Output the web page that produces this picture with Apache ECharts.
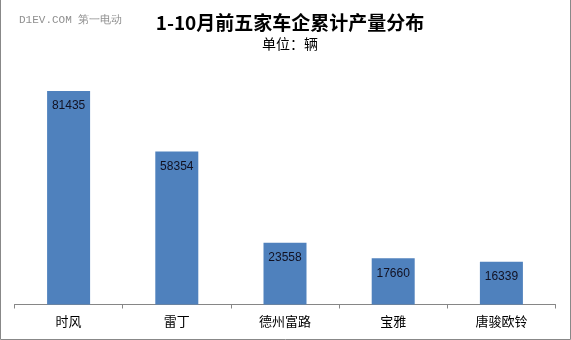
<!DOCTYPE html>
<html><head><meta charset="utf-8">
<script src="https://cdn.jsdelivr.net/npm/echarts@6/dist/echarts.min.js"></script>
<style>html,body{margin:0;padding:0;background:#fff}#c{width:571px;height:340px}</style>
</head><body><div id="c"></div>
<script>
const categories = ['时风','雷丁','德州富路','宝雅','唐骏欧铃'];
const values = [81435, 58354, 23558, 17660, 16339];
const titleText = '1-10月前五家车企累计产量分布';
const subtitleText = '单位：辆';
const watermark = 'D1EV.COM 第一电动';

const chart = echarts.init(document.getElementById('c'));
chart.setOption({
  backgroundColor: '#fff',
  animation: false,
  title: [{
    text: titleText,
    left: 285, top: 5, textAlign: 'center',
    textStyle: {fontFamily: 'Noto Sans CJK SC', fontSize: 19, fontWeight: 'bold', color: '#000', lineHeight: 26}
  },{
    text: subtitleText,
    left: 285, top: 30, textAlign: 'center',
    textStyle: {fontFamily: 'Noto Sans CJK SC', fontSize: 14, fontWeight: 'normal', color: '#000', lineHeight: 18}
  },{
    text: watermark,
    left: 14, top: 8,
    textStyle: {fontFamily: 'Liberation Mono', fontSize: 11, fontWeight: 'normal', color: '#8f8f8f', lineHeight: 14}
  }],
  grid: {left: 14.5, right: 15.5, top: 68.5, bottom: 35.5},
  xAxis: {
    type: 'category', data: categories,
    axisLine: {lineStyle: {color: '#868686', width: 1}},
    axisTick: {show: true, length: 4, alignWithLabel: false, lineStyle: {color: '#868686'}},
    axisLabel: {fontFamily: 'Noto Sans CJK SC', fontSize: 13, color: '#000', margin: 10}
  },
  yAxis: {
    type: 'value', min: 0, max: 90000, show: false,
    splitLine: {show: false}
  },
  series: [{
    type: 'bar', data: values, barWidth: 43,
    itemStyle: {color: '#4f81bd'},
    label: {show: true, position: 'insideTop', distance: 9, color: '#111122',
      fontFamily: 'Liberation Sans', fontSize: 12}
  }],
  graphic: [{
    type: 'polyline',
    shape: {points: [[0.5,0],[0.5,339.5],[570.5,339.5],[570.5,0]]},
    style: {stroke: '#888', lineWidth: 1, fill: null}
  }]
});
</script></body></html>
